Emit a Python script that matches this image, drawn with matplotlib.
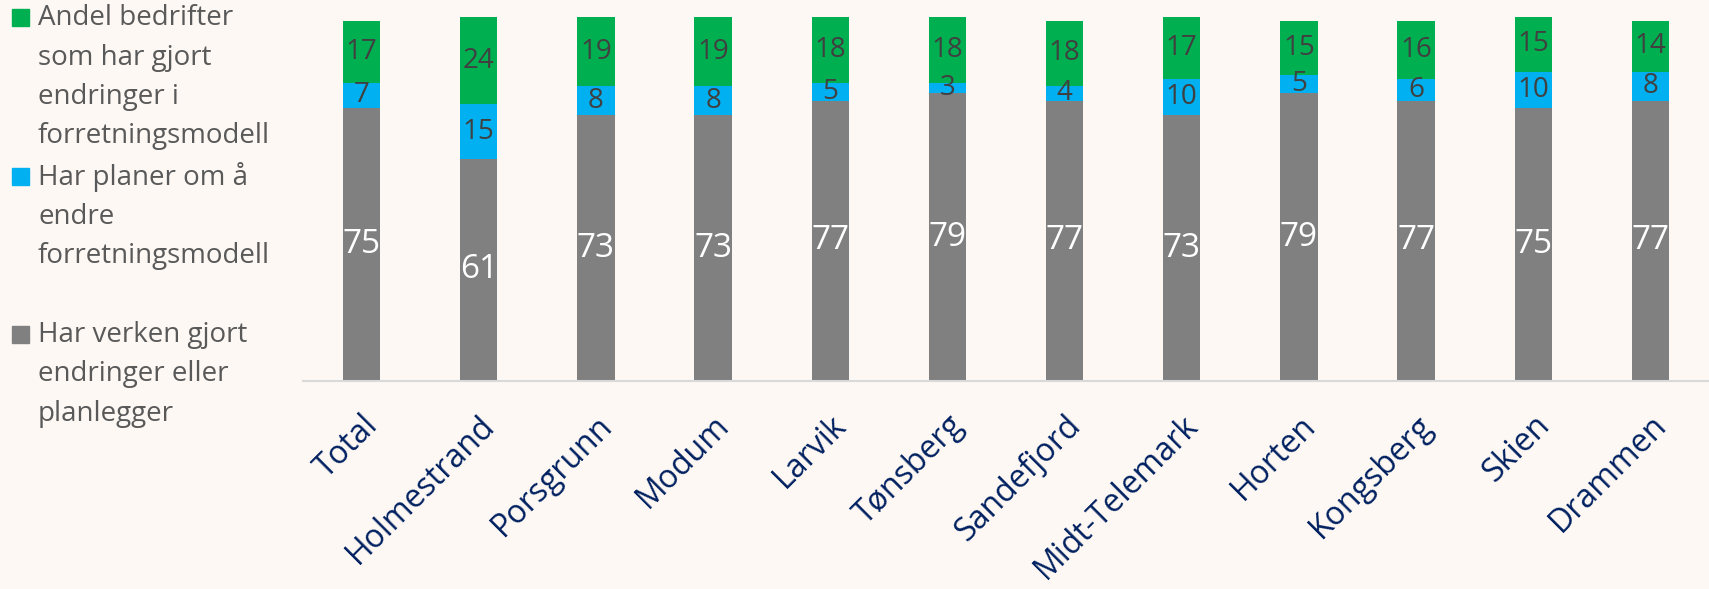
import matplotlib.pyplot as plt
import numpy as np
from matplotlib.patches import Rectangle

plt.rcParams['font.family'] = ['Open Sans', 'DejaVu Sans']

kommuner = ["Total", "Holmestrand", "Porsgrunn", "Modum", "Larvik", "Tønsberg",
            "Sandefjord", "Midt-Telemark", "Horten", "Kongsberg", "Skien", "Drammen"]
verken = [75, 61, 73, 73, 77, 79, 77, 73, 79, 77, 75, 77]
planer = [7, 15, 8, 8, 5, 3, 4, 10, 5, 6, 10, 8]
gjort = [17, 24, 19, 19, 18, 18, 18, 17, 15, 16, 15, 14]

serienavn = [["Andel bedrifter", "som har gjort", "endringer i", "forretningsmodell"],
             ["Har planer om å", "endre", "forretningsmodell"],
             ["Har verken gjort", "endringer eller", "planlegger"]]

bg = "#FDF8F4"
c_gjort = "#00B050"
c_planer = "#00B0F0"
c_verken = "#808080"

fig = plt.figure(figsize=(17.09, 5.89), dpi=100, facecolor=bg)
ax = fig.add_axes([303 / 1709, 1 - 381 / 589, 1 - 303 / 1709, (381 - 17) / 589])
ax.set_facecolor(bg)

x = np.arange(len(kommuner))
w = 0.32
verken = np.array(verken)
planer = np.array(planer)
gjort = np.array(gjort)

b1 = ax.bar(x, verken, w, color=c_verken)
b2 = ax.bar(x, planer, w, bottom=verken, color=c_planer)
b3 = ax.bar(x, gjort, w, bottom=verken + planer, color=c_gjort)

ax.bar_label(b1, label_type='center', color='white', fontsize=24)
ax.bar_label(b2, label_type='center', color='#404040', fontsize=20)
ax.bar_label(b3, label_type='center', color='#404040', fontsize=20)

ax.set_xlim(-0.5, len(kommuner) - 0.5)
ax.set_ylim(0, 100)
ax.set_yticks([])
for s in ['top', 'right', 'left']:
    ax.spines[s].set_visible(False)
ax.spines['bottom'].set_color('#D9D9D9')
ax.spines['bottom'].set_linewidth(1.5)

ax.set_xticks(x)
ax.set_xticklabels(kommuner, rotation=45, ha='right', rotation_mode='anchor',
                   fontsize=23, color='#002060')
ax.tick_params(axis='x', length=0, pad=20)

# forklaring til venstre, en linje om gangen
farger = [c_gjort, c_planer, c_verken]
topp = [18, 177, 335]
linje = 39.5
for farge, navn, y in zip(farger, serienavn, topp):
    fig.patches.append(Rectangle((12 / 1709, 1 - (y + 8) / 589), 17 / 1709, 17 / 589,
                                 transform=fig.transFigure, color=farge))
    for i, tekst in enumerate(navn):
        fig.text(38 / 1709, 1 - (y + i * linje) / 589, tekst, fontsize=20,
                 color='#595959', va='center', ha='left')

fig.savefig("out.png", dpi=100, facecolor=bg)
